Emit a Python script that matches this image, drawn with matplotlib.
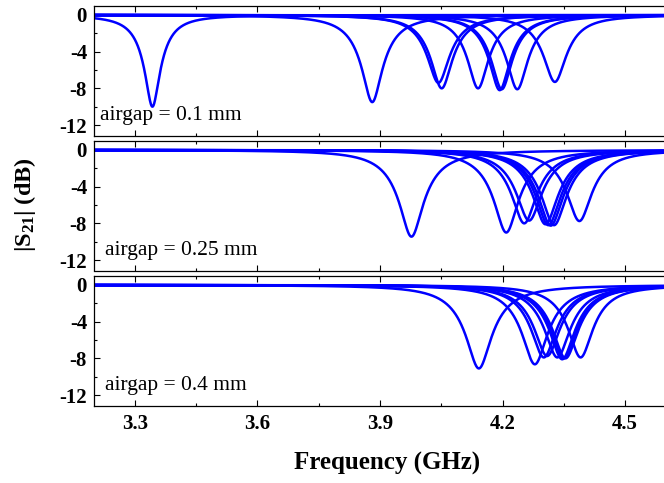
import numpy as np
import matplotlib
matplotlib.use("Agg")
import matplotlib.pyplot as plt
from matplotlib.ticker import MultipleLocator

plt.rcParams["mathtext.fontset"] = "custom"
plt.rcParams["mathtext.rm"] = "Liberation Serif"
plt.rcParams["mathtext.bf"] = "Liberation Serif:bold"
plt.rcParams["mathtext.it"] = "Liberation Serif:italic"
plt.rcParams["mathtext.default"] = "bf"

# ---- data (resonance freq GHz, dip depth dB, loaded Q) ----
labels = ["airgap = 0.1 mm", "airgap = 0.25 mm", "airgap = 0.4 mm"]

f0_01 = [3.343, 3.881, 4.043, 4.051, 4.140, 4.193, 4.198, 4.236, 4.328]
dip_01 = [-10.0, -9.5, -7.4, -8.0, -8.0, -8.2, -8.1, -8.1, -7.3]
q_01 = [38, 34, 38, 38, 40, 40, 40, 40, 40]

f0_025 = [3.977, 4.209, 4.253, 4.265, 4.305, 4.312, 4.318, 4.326, 4.388]
dip_025 = [-9.45, -9.0, -8.0, -7.7, -8.1, -8.2, -8.25, -8.2, -7.75]
q_025 = [30, 32, 34, 34, 34, 34, 34, 34, 36]

f0_04 = [4.142, 4.279, 4.301, 4.309, 4.334, 4.346, 4.350, 4.354, 4.391]
dip_04 = [-9.1, -8.65, -7.9, -7.75, -7.9, -8.1, -8.0, -8.0, -7.9]
q_04 = [30, 32, 34, 34, 34, 34, 34, 34, 36]

panels = [(f0_01, dip_01, q_01), (f0_025, dip_025, q_025), (f0_04, dip_04, q_04)]

xticks = [3.3, 3.6, 3.9, 4.2, 4.5]
yticks = [0, -4, -8, -12]

W, H = 664, 483
fig = plt.figure(figsize=(W / 100, H / 100), dpi=100)

freq = np.linspace(3.2, 4.6, 3000)

def notch_db(f, f0, dip, q):
    d = 1 - 10 ** (dip / 20.0)
    s = 1 - d / (1 + 2j * q * (f - f0) / f0)
    return 20 * np.log10(np.abs(s))

left = 94 / W
width = 572 / W
tops = [5.7, 140.7, 275.7]
ph = 129.8
serif = "Liberation Serif"

for k, (f0s, dips, qs) in enumerate(panels):
    bottom = 1 - (tops[k] + ph) / H
    ax = fig.add_axes([left, bottom, width, ph / H])
    for f0, dp, q in zip(f0s, dips, qs):
        ax.plot(freq, notch_db(freq, f0, dp, q), color="#0000ff", lw=1.8)
    ax.set_xlim(3.2, 4.6)
    ax.set_ylim(-13.14, 1.01)
    ax.set_xticks(xticks)
    ax.xaxis.set_minor_locator(MultipleLocator(0.15))
    ax.set_yticks(yticks)
    ax.yaxis.set_minor_locator(MultipleLocator(2))
    ax.tick_params(which="both", direction="in", top=True, right=False,
                   width=0.8)
    ax.tick_params(which="major", length=4)
    ax.tick_params(which="minor", length=2.5)
    ax.tick_params(axis="y", pad=5)
    ax.tick_params(axis="x", pad=6)
    for sp in ax.spines.values():
        sp.set_linewidth(0.9)
    ax.set_yticklabels([str(t) for t in yticks], fontfamily=serif,
                       fontweight="bold", fontsize=15)
    if k < 2:
        ax.set_xticklabels([])
    else:
        ax.set_xticklabels([f"{t:.1f}" for t in xticks], fontfamily=serif,
                           fontweight="bold", fontsize=15)
    tx = 0.0105 if k == 0 else 0.019
    ax.text(tx, 0.119, labels[k], transform=ax.transAxes, fontfamily=serif,
            fontsize=15.5, va="baseline", ha="left")

fig.text(25 / W, 1 - 205 / H, r"|S$_{\mathbf{21}}$| (dB)", rotation=90,
         ha="center", va="center", fontfamily=serif, fontweight="bold",
         fontsize=17.5)
fig.text(387 / W, 1 - 463 / H, "Frequency (GHz)", ha="center", va="center",
         fontfamily=serif, fontweight="bold", fontsize=18)

fig.savefig("out.png", dpi=100)
